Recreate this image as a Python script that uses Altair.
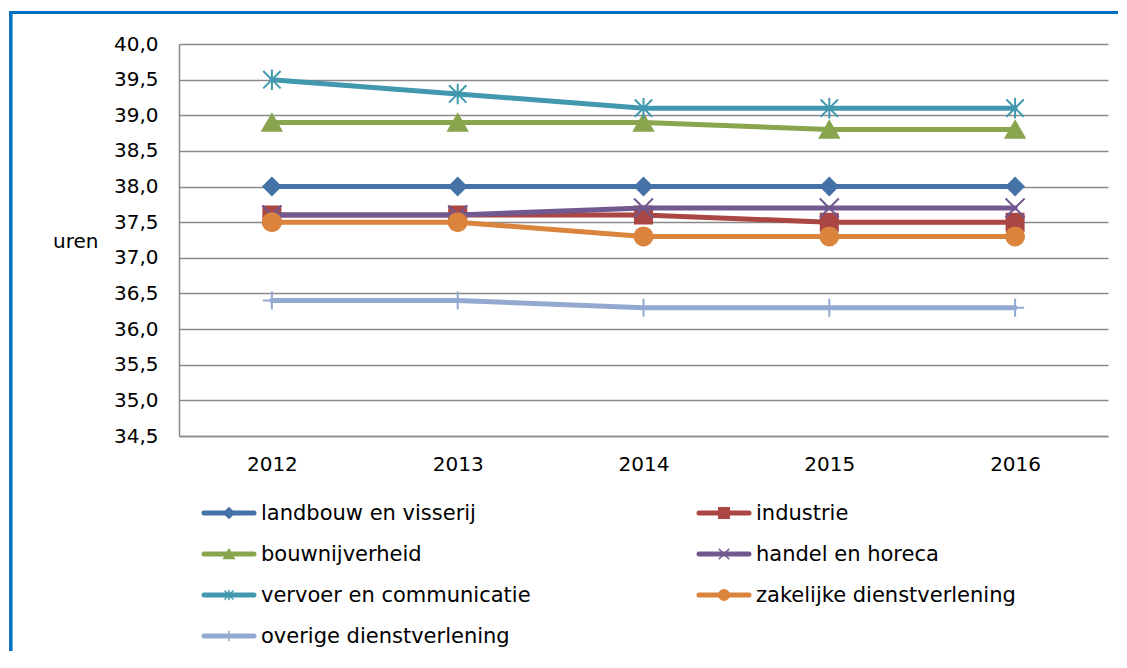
import altair as alt
import pandas as pd

# ---------------- data ----------------
years = ["2012", "2013", "2014", "2015", "2016"]
series_names = [
    "landbouw en visserij",
    "industrie",
    "bouwnijverheid",
    "handel en horeca",
    "vervoer en communicatie",
    "zakelijke dienstverlening",
    "overige dienstverlening",
]
landbouw = [38.0, 38.0, 38.0, 38.0, 38.0]
industrie = [37.6, 37.6, 37.6, 37.5, 37.5]
bouwnijverheid = [38.9, 38.9, 38.9, 38.8, 38.8]
handel = [37.6, 37.6, 37.7, 37.7, 37.7]
vervoer = [39.5, 39.3, 39.1, 39.1, 39.1]
zakelijke = [37.5, 37.5, 37.3, 37.3, 37.3]
overige = [36.4, 36.4, 36.3, 36.3, 36.3]
series_values = [landbouw, industrie, bouwnijverheid, handel, vervoer, zakelijke, overige]

y_ticks = [34.5, 35.0, 35.5, 36.0, 36.5, 37.0, 37.5, 38.0, 38.5, 39.0, 39.5, 40.0]
y_title = "uren"
title_text = "t/m 2016"

# ---------------- styles ----------------
colors = ["#4572A7", "#AA4643", "#89A54E", "#71588F", "#4198AF", "#DB843D", "#93A9CF"]
X_PATH = "M-1,-1L1,1M-1,1L1,-1"
STAR_PATH = "M0,-1L0,1M-0.85,-0.85L0.85,0.85M-0.85,0.85L0.85,-0.85"
PLUS_PATH = "M0,-1L0,1M-1,0L1,0"
shapes = ["diamond", "square", "triangle-up", X_PATH, STAR_PATH, "circle", PLUS_PATH]
sizes = [290, 290, 361, 361, 420, 324, 324]
FONT = "DejaVu Sans"
GRID = "#8a8a8a"

rows = []
for name, vals in zip(series_names, series_values):
    for yr, v in zip(years, vals):
        rows.append({"series": name, "year": yr, "value": v})
df = pd.DataFrame(rows)

leg_df = pd.DataFrame({
    "series": series_names,
    "col": [i % 2 for i in range(len(series_names))],
    "row": [i // 2 for i in range(len(series_names))],
})

x_scale = alt.Scale(domain=years, type="point", padding=0.5)
y_scale = alt.Scale(domain=[34.5, 40.0], nice=False, zero=False)

x_axis = alt.Axis(title=None, grid=False, labelAngle=0, labelPadding=18,
                  domain=True, domainColor=GRID, domainWidth=1.5,
                  ticks=False, tickSize=0, labelFont=FONT, labelFontSize=20,
                  labelColor="#000000")
y_axis = alt.Axis(values=y_ticks, grid=True, gridColor=GRID, gridWidth=1.5,
                  domain=True, domainColor=GRID, domainWidth=1.5,
                  ticks=False, tickSize=0, labelPadding=21,
                  labelFont=FONT, labelFontSize=20, labelColor="#000000",
                  labelExpr="replace(format(datum.value, '.1f'), '.', ',')",
                  title=y_title, titleAngle=0, titleAlign="right", titleBaseline="middle",
                  titleX=-81, titleY=197, titleFontWeight="normal", titleFontSize=20,
                  titleFont=FONT, titleColor="#000000")

layers = []
for i, name in enumerate(series_names):
    base = alt.Chart(df).transform_filter(alt.datum.series == name)
    xa = x_axis if i == 0 else None
    ya = y_axis if i == 0 else None
    line = base.mark_line(color=colors[i], strokeWidth=5, strokeJoin="round",
                          strokeCap="round").encode(
        x=alt.X("year:O", scale=x_scale, axis=xa, sort=years),
        y=alt.Y("value:Q", scale=y_scale, axis=ya),
    )
    pts = base.mark_point(shape=shapes[i], size=sizes[i], filled=True, fill=colors[i],
                          stroke=colors[i], strokeWidth=2, opacity=1).encode(
        x=alt.X("year:O", scale=x_scale, axis=None, sort=years),
        y=alt.Y("value:Q", scale=y_scale, axis=None),
    )
    layers += [line, pts]

# legend drawn below the plot through its own scales
lx = alt.X("col:Q", scale=alt.Scale(domain=[0, 1], range=[23, 518]), axis=None)
ly = alt.Y("row:Q", scale=alt.Scale(domain=[0, 3], range=[469, 592]), axis=None)
lcolor = alt.Color("series:N", scale=alt.Scale(domain=series_names, range=colors), legend=None)
lstroke = alt.Stroke("series:N", scale=alt.Scale(domain=series_names, range=colors), legend=None)
lshape = alt.Shape("series:N", scale=alt.Scale(domain=series_names, range=shapes), legend=None)

leg_base = alt.Chart(leg_df)
leg_line = leg_base.mark_rule(strokeWidth=5, strokeCap="round", xOffset=2, x2Offset=52).encode(
    x=lx, x2=alt.X2("col"), y=ly, color=lcolor)
leg_pts = leg_base.mark_point(filled=True, size=110, strokeWidth=1.5, opacity=1, xOffset=27).encode(
    x=lx, y=ly, color=lcolor, stroke=lstroke, shape=lshape)
leg_text = leg_base.mark_text(align="left", baseline="middle", dx=59, dy=1, fontSize=21,
                              font=FONT, color="#000000").encode(
    x=lx, y=ly, text="series:N")

# decoration: cropped blue frame and cropped heading
frame_left = alt.Chart(pd.DataFrame({"a": [0]})).mark_rule(color="#0070C0", strokeWidth=3.5).encode(
    x=alt.value(-168.2), y=alt.value(-33), y2=alt.value(630))
frame_top = alt.Chart(pd.DataFrame({"a": [0]})).mark_rule(color="#0070C0", strokeWidth=3).encode(
    y=alt.value(-31.5), x=alt.value(-170), x2=alt.value(950))
heading = alt.Chart(pd.DataFrame({"t": [title_text]})).mark_text(
    align="center", baseline="alphabetic", fontSize=22, fontWeight="bold", font=FONT,
    color="#000000").encode(x=alt.value(38), y=alt.value(-38), text="t:N")

layers += [leg_line, leg_pts, leg_text, frame_left, frame_top, heading]

chart = alt.layer(*layers).resolve_scale(
    x="independent", y="independent"
).properties(
    width=929, height=392,
    autosize=alt.AutoSizeParams(type="none"),
    padding={"left": 171, "top": 36, "right": 10, "bottom": 215},
).configure(font=FONT).configure_view(strokeWidth=0, stroke=None)

chart.save("out.html", embed_options={"renderer": "svg", "actions": False})
